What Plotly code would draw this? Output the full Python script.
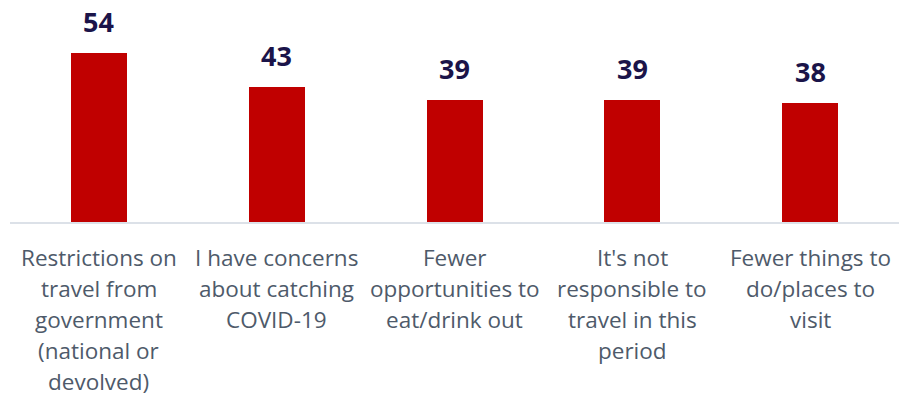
import plotly.graph_objects as go

# Reasons for not travelling (% of respondents)
categories = [
    "Restrictions on<br>travel from<br>government<br>(national or<br>devolved)",
    "I have concerns<br>about catching<br>COVID-19",
    "Fewer<br>opportunities to<br>eat/drink out",
    "It's not<br>responsible to<br>travel in this<br>period",
    "Fewer things to<br>do/places to<br>visit",
]
values = [54, 43, 39, 39, 38]

BAR_RED = "#C00000"
VALUE_NAVY = "#1B1449"
LABEL_GREY = "#4E5A6A"
FONT = "Open Sans"

x_keys = list(range(len(categories)))

fig = go.Figure(
    go.Bar(
        x=x_keys,
        y=values,
        marker=dict(color=BAR_RED, line=dict(width=0)),
        width=0.315,
        hoverinfo="skip",
    )
)

annotations = []
# value labels above each bar
for xk, v in zip(x_keys, values):
    annotations.append(dict(
        x=xk, y=v, xref="x", yref="y",
        text=f"<b>{v}</b>", showarrow=False,
        yanchor="bottom", xanchor="center", yshift=11,
        font=dict(family=FONT, size=27, color=VALUE_NAVY),
    ))

# category labels, one annotation per line for wider line spacing
LINE_STEP = 31
for xk, label in zip(x_keys, categories):
    for i, line in enumerate(label.split("<br>")):
        annotations.append(dict(
            x=xk, y=0, xref="x", yref="paper",
            text=line, showarrow=False,
            yanchor="top", xanchor="center",
            yshift=-18 - i * LINE_STEP,
            font=dict(family=FONT, size=22.5, color=LABEL_GREY),
        ))

fig.update_layout(
    width=899, height=397,
    margin=dict(l=10, r=0, t=34, b=175),
    paper_bgcolor="white", plot_bgcolor="white",
    showlegend=False,
    bargap=0,
    annotations=annotations,
    xaxis=dict(
        range=[-0.5, len(categories) - 0.5],
        showticklabels=False, ticks="",
        showgrid=False, zeroline=False,
        showline=True, linecolor="#DCE1E8", linewidth=2,
    ),
    yaxis=dict(
        range=[0, 60], visible=False,
        showgrid=False, zeroline=False,
    ),
)

fig.write_html("out.html")
